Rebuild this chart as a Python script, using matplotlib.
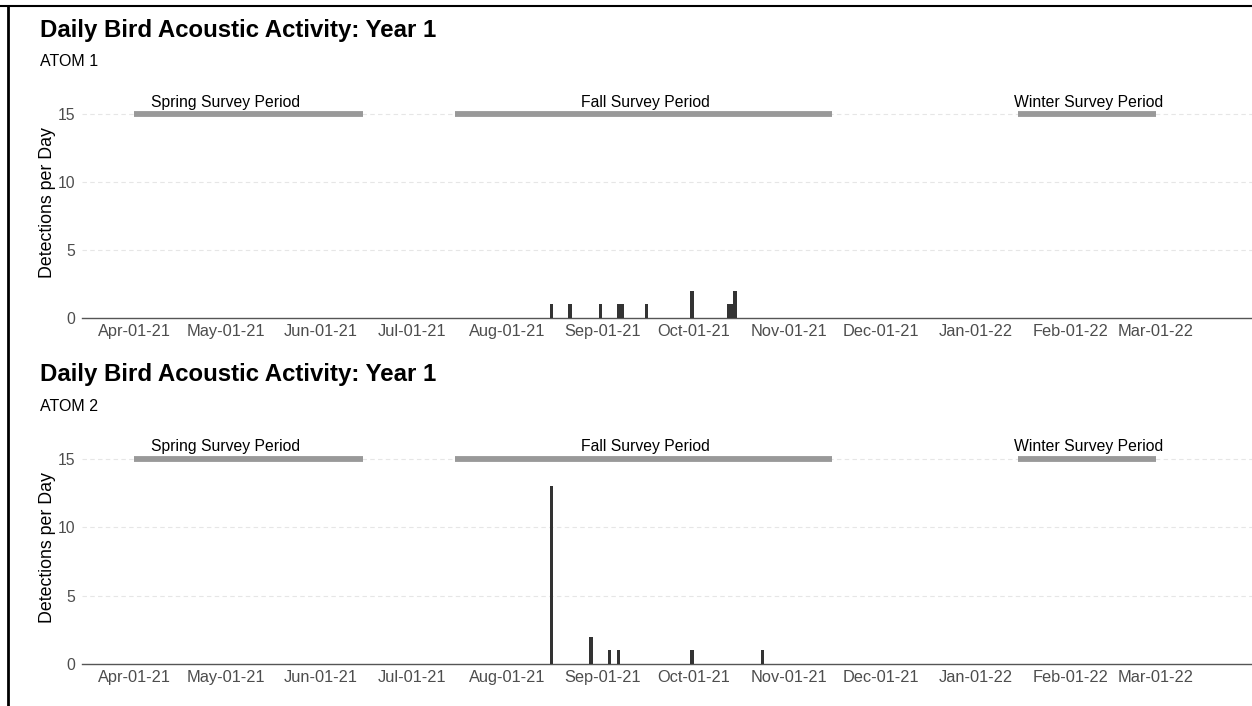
"""
Daily bird acoustic detections for two ATOM units, Year 1,
with the spring / fall / winter survey periods marked along the top.
"""

import datetime as dt

import matplotlib
matplotlib.use("Agg")
import matplotlib.dates as mdates
import matplotlib.pyplot as plt
from matplotlib.lines import Line2D

plt.rcParams["font.family"] = ["Liberation Sans", "DejaVu Sans"]

TITLE = "Daily Bird Acoustic Activity: Year 1"
UNITS = ["ATOM 1", "ATOM 2"]

# detections per day
atom1_dates = ["2021-08-16", "2021-08-22", "2021-09-01", "2021-09-07", "2021-09-08",
               "2021-09-16", "2021-10-01", "2021-10-13", "2021-10-14", "2021-10-15"]
atom1_counts = [1, 1, 1, 1, 1, 1, 2, 1, 1, 2]

atom2_dates = ["2021-08-16", "2021-08-29", "2021-09-04", "2021-09-07",
               "2021-10-01", "2021-10-24"]
atom2_counts = [13, 2, 1, 1, 1, 1]

# survey periods: name, start, end, label position
survey_names = ["Spring Survey Period", "Fall Survey Period", "Winter Survey Period"]
survey_start = ["2021-04-01", "2021-07-15", "2022-01-15"]
survey_end = ["2021-06-15", "2021-11-15", "2022-03-01"]
survey_label_at = ["2021-05-01", "2021-09-15", "2022-02-07"]
survey_y = 15

tick_dates = ["2021-04-01", "2021-05-01", "2021-06-01", "2021-07-01", "2021-08-01",
              "2021-09-01", "2021-10-01", "2021-11-01", "2021-12-01", "2022-01-01",
              "2022-02-01", "2022-03-01"]


def d(s):
    return mdates.date2num(dt.datetime.strptime(s, "%Y-%m-%d"))


W, H = 1252, 706
fig = plt.figure(figsize=(W / 100, H / 100), dpi=100)

APR1 = d("2021-04-01")
X_LEFT, X_RIGHT = APR1 - 17.0, APR1 + 365.4
AX_LEFT_PX = 82


def draw_panel(bottom_px, unit_px, title_y, dates, counts, unit):
    top_px = bottom_px - 17 * unit_px
    ax = fig.add_axes([AX_LEFT_PX / W, 1 - bottom_px / H, 1 - AX_LEFT_PX / W,
                       (bottom_px - top_px) / H])
    ax.set_xlim(X_LEFT, X_RIGHT)
    ax.set_ylim(0, 17)

    for yv in [5, 10, 15]:
        ax.axhline(yv, color="#e6e6e6", lw=0.8, ls=(0, (4, 3)), zorder=0)

    # bars span the day ending on the date (ggplot output sits half a day left)
    ax.bar([d(s) for s in dates], counts, width=-1.15, align="edge",
           color="#333333", zorder=3)

    for name, s, e, lab in zip(survey_names, survey_start, survey_end, survey_label_at):
        ax.plot([d(s), d(e)], [survey_y, survey_y], color="#999999", lw=4.2,
                solid_capstyle="butt", zorder=2)
        ax.text(d(lab), survey_y + 0.88, name, ha="center", va="center",
                fontsize=11.3, color="black")

    ax.set_yticks([0, 5, 10, 15])
    ax.set_xticks([d(s) for s in tick_dates])
    ax.xaxis.set_major_formatter(mdates.DateFormatter("%b-%d-%y"))
    ax.tick_params(axis="both", length=0, labelcolor="#4d4d4d")
    ax.tick_params(axis="x", pad=4, labelsize=11.8)
    ax.tick_params(axis="y", pad=5, labelsize=11.3)
    for side in ["top", "right", "left"]:
        ax.spines[side].set_visible(False)
    ax.spines["bottom"].set_color("#555555")
    ax.spines["bottom"].set_linewidth(1.0)
    ax.set_facecolor("none")

    ax.set_ylabel("Detections per Day", fontsize=12.8)
    ax.yaxis.set_label_coords((56 - AX_LEFT_PX) / (W - AX_LEFT_PX), 0.5)

    fig.text(40 / W, 1 - title_y / H, TITLE, fontsize=17.3, fontweight="bold",
             ha="left", va="center")
    fig.text(40 / W, 1 - (title_y + 31) / H, unit, fontsize=11.5,
             ha="left", va="center")
    return ax


draw_panel(318, 13.6, 30, atom1_dates, atom1_counts, UNITS[0])
draw_panel(664, 13.67, 375, atom2_dates, atom2_counts, UNITS[1])

# outer frame (top and left edges only)
fig.add_artist(Line2D([0, 1], [1 - 6 / H, 1 - 6 / H], color="black", lw=1.5,
                      transform=fig.transFigure))
fig.add_artist(Line2D([8 / W, 8 / W], [0, 1 - 6 / H], color="black", lw=2,
                      transform=fig.transFigure))

fig.savefig("out.png", dpi=100)
